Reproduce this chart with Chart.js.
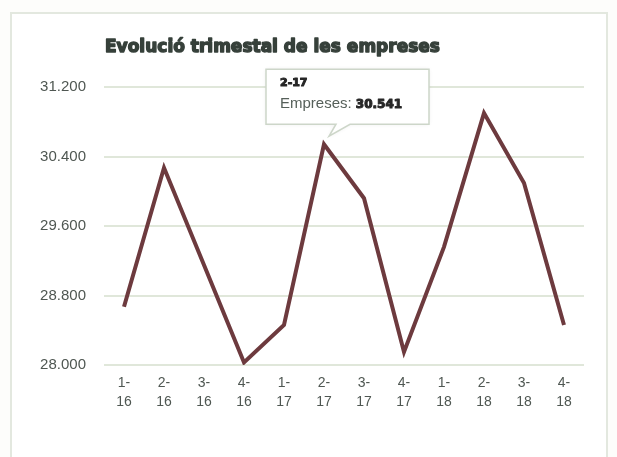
<!DOCTYPE html>
<html>
<head>
<meta charset="utf-8">
<script src="https://cdn.jsdelivr.net/npm/chart.js@4/dist/chart.umd.min.js"></script>
<style>
    html, body { margin: 0; padding: 0; background: #fdfdfb; }
    #wrap { position: relative; width: 617px; height: 457px; }
    #frame {
        position: absolute; left: 10px; top: 12px; width: 598px; height: 450px;
        border: 2px solid #e3e8df; background: #ffffff; box-sizing: border-box;
    }
    canvas { position: absolute; left: 0; top: 0; }
</style>
</head>
<body>
<div id="wrap">
    <div id="frame"></div>
    <canvas id="chart" width="617" height="457"></canvas>
</div>
<script>
// quarters (two-line tick labels)
const quarters = [
    ['1-', '16'], ['2-', '16'], ['3-', '16'], ['4-', '16'],
    ['1-', '17'], ['2-', '17'], ['3-', '17'], ['4-', '17'],
    ['1-', '18'], ['2-', '18'], ['3-', '18'], ['4-', '18']
];
const empreses = [28670, 30270, 29150, 28030, 28460, 30541, 29920, 28150, 29360, 30900, 30095, 28460];
const yTicks = [28000, 28800, 29600, 30400, 31200];
const chartTitle = 'Evolució trimestal de les empreses';
const seriesName = 'Empreses';
const highlightIndex = 5;

const fmt = v => new Intl.NumberFormat('de-DE').format(v);

// heavy text: fill + thin stroke in the same colour
function heavyText(ctx, text, x, y, width) {
    ctx.lineWidth = width;
    ctx.strokeStyle = ctx.fillStyle;
    ctx.lineJoin = 'round';
    ctx.strokeText(text, x, y);
    ctx.fillText(text, x, y);
}

// title drawn left-aligned with the plot area
const titlePlugin = {
    id: 'leftTitle',
    afterDraw(chart) {
        const ctx = chart.ctx;
        ctx.save();
        ctx.font = 'bold 17px "DejaVu Sans"';
        ctx.fillStyle = '#36403a';
        ctx.textBaseline = 'middle';
        heavyText(ctx, chartTitle, chart.chartArea.left + 1, 48, 1.4);
        ctx.restore();
    }
};

// fixed callout on one point, like the hovered tooltip in the source
const calloutPlugin = {
    id: 'callout',
    afterDraw(chart) {
        const pt = chart.getDatasetMeta(0).data[highlightIndex];
        const ctx = chart.ctx;
        const bx = pt.x - 58, by = pt.y - 75, bw = 163, bh = 55;
        ctx.save();
        ctx.shadowColor = 'rgba(0,0,0,0.08)';
        ctx.shadowBlur = 4;
        ctx.fillStyle = '#ffffff';
        ctx.strokeStyle = '#cdd6c9';
        ctx.lineWidth = 1.5;
        ctx.beginPath();
        ctx.moveTo(bx, by);
        ctx.lineTo(bx + bw, by);
        ctx.lineTo(bx + bw, by + bh);
        ctx.lineTo(pt.x + 26, by + bh);
        ctx.lineTo(pt.x + 5, pt.y - 8);
        ctx.lineTo(pt.x + 12, by + bh);
        ctx.lineTo(bx, by + bh);
        ctx.closePath();
        ctx.fill();
        ctx.shadowBlur = 0;
        ctx.stroke();

        ctx.textBaseline = 'middle';
        ctx.fillStyle = '#262626';
        ctx.font = 'bold 11px "DejaVu Sans"';
        heavyText(ctx, quarters[highlightIndex].join(''), bx + 14, by + 14, 1);
        ctx.font = '15px "Liberation Sans"';
        ctx.fillStyle = '#56605a';
        const lbl = seriesName + ': ';
        ctx.fillText(lbl, bx + 14, by + 35);
        const w = ctx.measureText(lbl).width;
        ctx.font = 'bold 12px "DejaVu Sans"';
        ctx.fillStyle = '#262626';
        heavyText(ctx, fmt(empreses[highlightIndex]), bx + 14 + w, by + 36, 1);
        ctx.restore();
    }
};

new Chart(document.getElementById('chart').getContext('2d'), {
    type: 'line',
    data: {
        labels: quarters,
        datasets: [{
            label: seriesName,
            data: empreses,
            borderColor: '#6d3a3e',
            borderWidth: 4,
            pointRadius: 0,
            tension: 0,
            fill: false
        }]
    },
    options: {
        responsive: false,
        animation: false,
        layout: { padding: { left: 20, right: 33, top: 87, bottom: 0 } },
        plugins: {
            legend: { display: false },
            title: { display: false },
            tooltip: { enabled: false }
        },
        scales: {
            x: {
                offset: true,
                grid: { display: false, drawTicks: false },
                border: { display: false },
                ticks: {
                    color: '#4f5752',
                    font: { family: 'Liberation Sans', size: 14, lineHeight: 1.4 },
                    padding: 8,
                    maxRotation: 0,
                    autoSkip: false
                },
                afterFit(scale) { scale.height = 92; }
            },
            y: {
                min: 28000,
                max: 31200,
                afterBuildTicks(scale) {
                    scale.ticks = yTicks.map(v => ({ value: v }));
                },
                grid: { color: '#e0e7da', lineWidth: 2, drawTicks: false },
                border: { display: false },
                ticks: {
                    color: '#4f5752',
                    font: { family: 'Liberation Sans', size: 15 },
                    padding: 18,
                    callback: v => fmt(v)
                },
                afterFit(scale) { scale.width = 84; }
            }
        }
    },
    plugins: [titlePlugin, calloutPlugin]
});
</script>
</body>
</html>
